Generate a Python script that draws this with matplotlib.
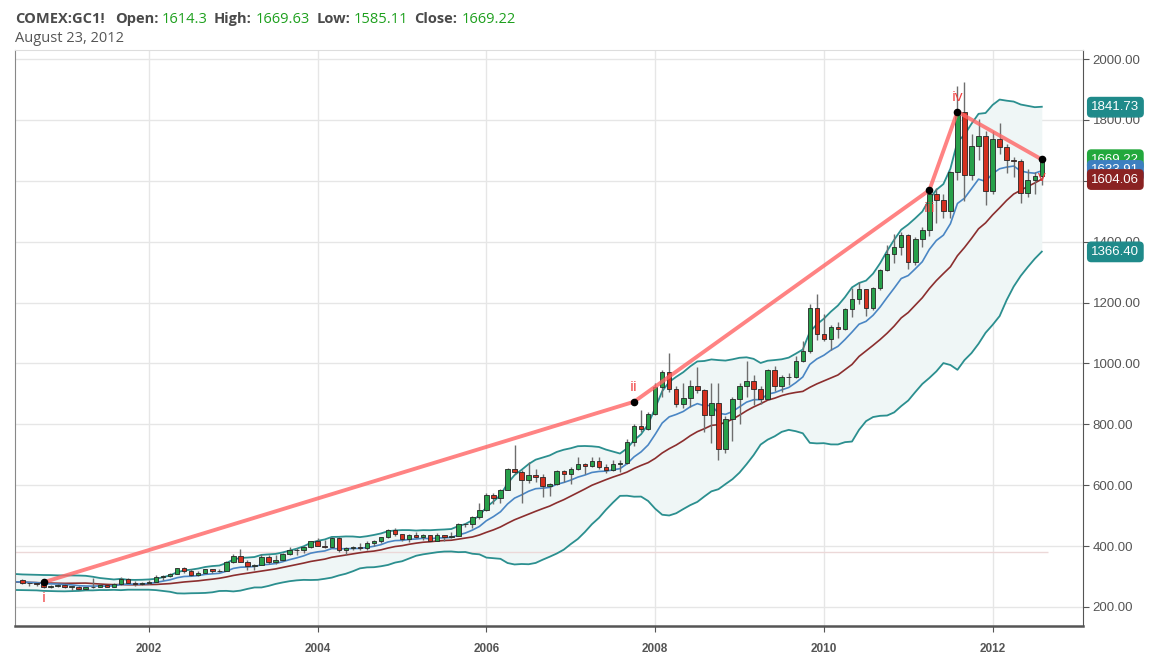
import matplotlib
matplotlib.use('Agg')
import matplotlib.pyplot as plt
import numpy as np
import pandas as pd

# monthly COMEX gold (GC1!), months counted from Jan 2000, first candle Jul 2000
first_month = 6

opens = [
    289, 277, 278, 274, 265, 270,
    273, 266, 267, 258, 264, 267, 271, 266, 274, 293, 279, 275,
    279, 283, 297, 303, 309, 327, 318, 305, 313, 324, 317, 318,
    348, 368, 348, 335, 339, 364, 346, 355, 375, 386, 387, 398,
    416, 401, 397, 427, 387, 394, 396, 392, 410, 416, 429, 453,
    438, 422, 436, 429, 436, 418, 436, 430, 434, 473, 471, 496,
    518, 569, 557, 584, 653, 644, 616, 634, 626, 598, 604, 648,
    636, 652, 670, 664, 680, 660, 651, 668, 673, 743, 795, 783,
    834, 923, 972, 916, 868, 886, 927, 914, 829, 871, 718, 816,
    883, 927, 942, 916, 884, 979, 927, 954, 955, 1008, 1040, 1182,
    1096, 1081, 1118, 1113, 1179, 1213, 1245, 1181, 1248, 1307, 1359, 1384,
    1421, 1333, 1410, 1439, 1556, 1536, 1500, 1628, 1825, 1620, 1715, 1746,
    1566, 1738, 1711, 1669, 1664, 1560, 1604, 1614.3,
]
highs = [
    291, 280, 279, 275, 272, 276,
    274, 269, 268, 266, 294, 274, 272, 279, 297, 294, 285, 281,
    287, 304, 305, 312, 328, 331, 325, 317, 326, 325, 324, 350,
    374, 390, 353, 341, 375, 372, 369, 377, 397, 393, 400, 418,
    428, 421, 430, 431, 396, 399, 410, 418, 419, 431, 457, 458,
    440, 439, 447, 439, 437, 443, 437, 447, 477, 477, 499, 541,
    573, 575, 589, 656, 732, 650, 677, 654, 636, 606, 650, 649,
    660, 692, 673, 694, 694, 668, 684, 682, 750, 800, 848, 840,
    935, 977, 1034, 927, 936, 946, 989, 917, 935, 936, 827, 889,
    934, 1007, 962, 927, 982, 990, 961, 968, 1023, 1072, 1195, 1227,
    1163, 1125, 1136, 1183, 1249, 1266, 1246, 1250, 1311, 1388, 1425, 1432,
    1424, 1415, 1448, 1577, 1577, 1556, 1632, 1911, 1923, 1755, 1804, 1764,
    1764, 1791, 1720, 1677, 1673, 1640, 1630, 1669.63,
]
lows = [
    276, 270, 269, 263, 262, 267,
    263, 255, 255, 255, 263, 266, 264, 265, 272, 277, 270, 272,
    276, 282, 289, 299, 307, 312, 301, 302, 311, 312, 314, 317,
    345, 346, 320, 320, 337, 342, 341, 351, 370, 370, 378, 393,
    399, 394, 394, 382, 372, 386, 386, 388, 400, 411, 427, 434,
    417, 412, 426, 420, 415, 415, 418, 428, 433, 461, 458, 490,
    516, 538, 540, 583, 637, 543, 608, 612, 560, 566, 601, 611,
    603, 650, 636, 661, 653, 640, 646, 643, 671, 728, 776, 780,
    830, 889, 907, 858, 852, 858, 902, 775, 740, 682, 705, 744,
    800, 891, 864, 865, 879, 910, 905, 930, 952, 1003, 1034, 1076,
    1072, 1044, 1085, 1110, 1154, 1194, 1155, 1175, 1242, 1305, 1331, 1357,
    1309, 1324, 1381, 1419, 1462, 1478, 1478, 1603, 1532, 1603, 1667, 1522,
    1555, 1688, 1627, 1614, 1527, 1548, 1557, 1585.11,
]
closes = [
    277, 278, 274, 265, 270, 273,
    266, 267, 258, 264, 267, 271, 266, 274, 293, 279, 275, 279,
    283, 297, 303, 309, 327, 318, 305, 313, 324, 317, 318, 348,
    368, 348, 335, 339, 364, 346, 355, 375, 386, 387, 398, 416,
    401, 397, 427, 387, 394, 396, 392, 410, 416, 429, 453, 438,
    422, 436, 429, 436, 418, 436, 430, 434, 473, 471, 496, 518,
    569, 557, 584, 653, 644, 616, 634, 626, 598, 604, 648, 636,
    652, 670, 664, 680, 660, 651, 668, 673, 743, 795, 783, 834,
    923, 972, 916, 868, 886, 927, 914, 829, 871, 718, 816, 883,
    927, 942, 916, 884, 979, 927, 954, 955, 1008, 1040, 1182, 1096,
    1081, 1118, 1113, 1179, 1213, 1245, 1181, 1248, 1307, 1359, 1384, 1421,
    1333, 1410, 1439, 1556, 1536, 1500, 1628, 1825, 1620, 1715, 1746, 1566,
    1738, 1711, 1669, 1664, 1560, 1604, 1614.3, 1669.22,
]
# closes Nov 1998 - Jun 2000, only used to warm up the indicators
closes_before = [294, 288, 287, 287, 280, 287, 268, 262, 255, 255,
                 299, 300, 292, 290, 284, 294, 279, 274, 273, 289]

# elliott wave marks drawn on the chart
wave_labels = ['i', 'ii', 'iii', 'iv', 'v']
wave_months = [9, 93, 135, 139, 151]
wave_prices = [281, 874, 1569, 1827, 1670]
wave_label_dy = [-12, 10, -13, 10, -13]

level_line = 380

year_ticks = [24, 48, 72, 96, 120, 144]
year_labels = ['2002', '2004', '2006', '2008', '2010', '2012']
price_ticks = [200, 400, 600, 800, 1000, 1200, 1400, 1600, 1800, 2000]

W, H = 1154, 662
fig = plt.figure(figsize=(W / 100, H / 100), dpi=100)
ax = fig.add_axes([15 / W, 36 / H, 1068 / W, 576 / H])

# indicators: Bollinger(20, 2) and EMA 10 on closes
all_close = pd.Series(closes_before + closes, dtype=float)
all_x = np.arange(first_month - len(closes_before), first_month + len(closes))
mid = all_close.rolling(20).mean()
sd = all_close.rolling(20).std(ddof=0)
upper = mid + 2 * sd
lower = mid - 2 * sd
ema = all_close.ewm(span=10, adjust=False).mean()
keep = all_x >= first_month - 1
bx = all_x[keep]

ax.fill_between(bx, lower[keep], upper[keep], color='#eff6f6', zorder=1, lw=0)
ax.plot(bx, upper[keep], color='#2b8f8f', lw=1.3, zorder=2)
ax.plot(bx, lower[keep], color='#2b8f8f', lw=1.3, zorder=2)
ax.plot(bx, mid[keep], color='#8b2e2e', lw=1.2, zorder=2)
ax.plot(bx, ema[keep], color='#4a86c4', lw=1.2, zorder=2)

ax.hlines(level_line, first_month - 1, wave_months[-1] + 0.9, color='#ecd8d8', lw=1, zorder=1.5)

# candles
x = np.arange(first_month, first_month + len(closes))
o = np.array(opens, dtype=float)
c = np.array(closes, dtype=float)
up = c >= o
ax.vlines(x, lows, highs, color='#6e6e6e', lw=1, zorder=3)
bottoms = np.minimum(o, c)
heights = np.maximum(np.abs(c - o), 2.0)
colors = np.where(up, '#27a04a', '#d6301f')
ax.bar(x, heights, bottom=bottoms, width=0.64, color=colors,
       edgecolor='#262626', linewidth=0.6, zorder=4)

# wave drawing
ax.plot(wave_months, wave_prices, color='#ff6464', lw=2.8, alpha=0.8,
        solid_capstyle='round', zorder=5)
ax.scatter(wave_months, wave_prices, s=20, color='black', zorder=6)
for lab, m, p, dy in zip(wave_labels, wave_months, wave_prices, wave_label_dy):
    ax.annotate(lab, (m, p), xytext=(0, dy), textcoords='offset points',
                ha='center', va='center', color='#f03a3a', fontsize=11,
                family='Open Sans', zorder=7)

ax.set_xlim(4.94, 156.86)
ax.set_ylim(137.3, 2029.6)
ax.set_xticks(year_ticks)
ax.set_xticklabels(year_labels)
ax.set_yticks(price_ticks)
ax.set_yticklabels([f'{v:.2f}' for v in price_ticks])
ax.yaxis.tick_right()
ax.tick_params(axis='y', length=4, color='#555555', labelsize=9.5,
               labelcolor='#555555', pad=3)
ax.tick_params(axis='x', length=4, color='#555555', labelsize=8.5,
               labelcolor='#555555', pad=8)
for lbl in ax.get_xticklabels():
    lbl.set_fontweight('bold')
    lbl.set_family(['Liberation Sans Narrow', 'Liberation Sans'])
for lbl in ax.get_yticklabels():
    lbl.set_family('Liberation Sans')
ax.grid(color='#e6e6e6', lw=1, zorder=0)
ax.set_axisbelow(True)
ax.spines['top'].set_color('#dddddd')
ax.spines['top'].set_linewidth(0.8)
ax.spines['left'].set_color('#888888')
ax.spines['right'].set_color('#555555')
ax.spines['bottom'].set_color('#555555')
ax.spines['bottom'].set_linewidth(1.8)

# price badges on the right scale
badges = [
    (1841.73, '#1f8a8a'),
    (1366.40, '#1f8a8a'),
    (1669.22, '#22a83c'),
    (1633.91, '#3d7fc0'),
    (1604.06, '#8a2222'),
]
for i, (v, col) in enumerate(badges):
    ax.annotate(f'{v:.2f}', xy=(1.0, v), xycoords=('axes fraction', 'data'),
                xytext=(6, 0), textcoords='offset points', ha='left', va='center',
                color='white', fontsize=9.5, family='Liberation Sans',
                bbox=dict(boxstyle='round,pad=0.28', fc=col, ec=col),
                annotation_clip=False, zorder=10 + i)

# header
renderer = fig.canvas.get_renderer()


def header_row(parts, x0, y):
    xpos = x0
    for s, col, weight, gap in parts:
        t = fig.text(xpos / W, 1 - y / H, s, color=col, fontsize=10.5,
                     fontweight=weight, family='Open Sans', va='baseline')
        xpos += t.get_window_extent(renderer).width + gap


lab_col = '#4a4a4a'
val_col = '#1ea01e'
header_row([
    ('COMEX:GC1!', lab_col, 'bold', 10),
    ('Open:', lab_col, 'bold', 4),
    ('1614.3', val_col, 'normal', 6),
    ('High:', lab_col, 'bold', 4),
    ('1669.63', val_col, 'normal', 6),
    ('Low:', lab_col, 'bold', 4),
    ('1585.11', val_col, 'normal', 6),
    ('Close:', lab_col, 'bold', 4),
    ('1669.22', val_col, 'normal', 0),
], 15, 23)
header_row([('August 23, 2012', '#555555', 'normal', 0)], 15, 42)

fig.savefig('out.png', dpi=100)
